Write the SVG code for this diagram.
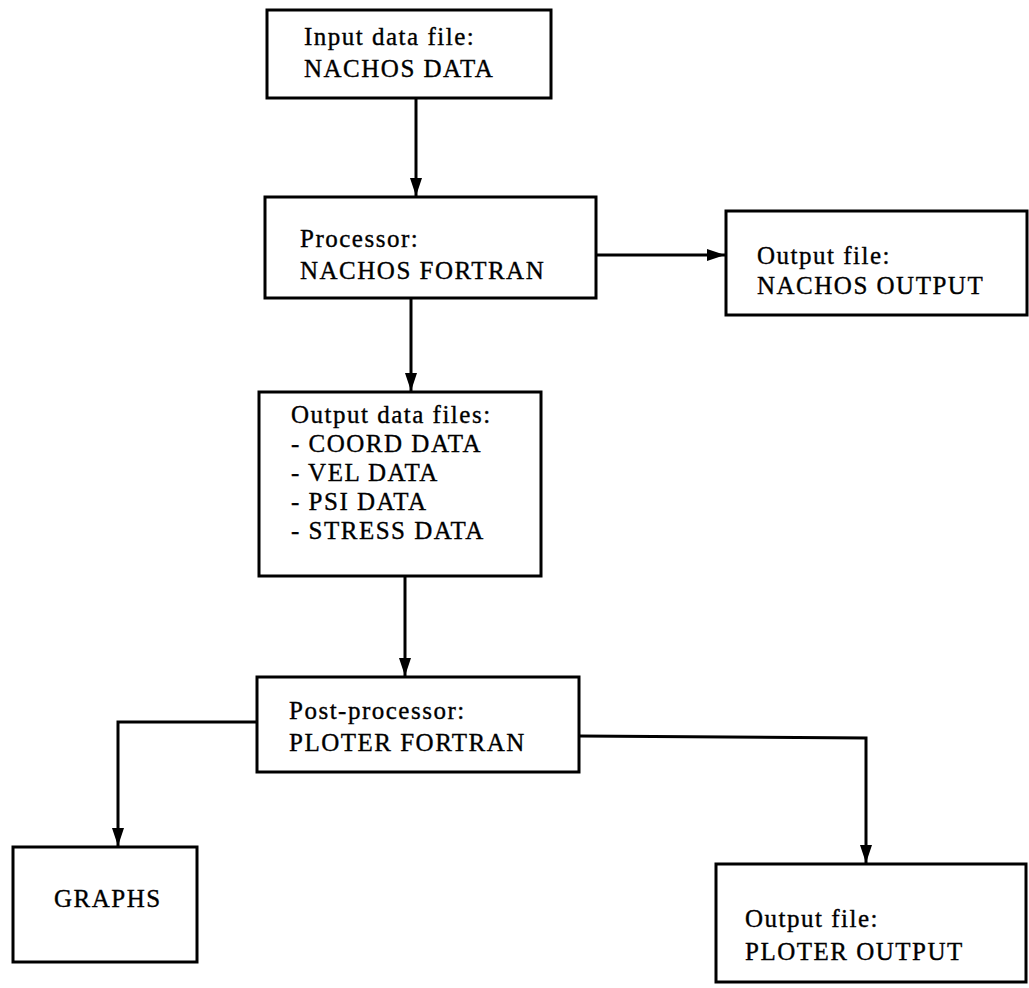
<svg xmlns="http://www.w3.org/2000/svg" width="1029" height="988" viewBox="0 0 1029 988">
<defs>
<style>
.box{fill:#fff;stroke:#000;stroke-width:3}
.t{font-family:"Liberation Serif","Times New Roman",serif;font-size:25px;fill:#000;stroke:#000;stroke-width:0.35;letter-spacing:1.5px}
.c{fill:none;stroke:#000;stroke-width:3}
</style>
<marker id="ah" markerUnits="userSpaceOnUse" markerWidth="20" markerHeight="14" refX="18" refY="7" orient="auto">
<path d="M0,1 L18,7 L0,13 Z" fill="#000"/>
</marker>
</defs>
<rect width="1029" height="988" fill="#fff"/>
<g id="connectors">
<path class="c" d="M416,98 V196" marker-end="url(#ah)"/>
<path class="c" d="M596,255 H725" marker-end="url(#ah)"/>
<path class="c" d="M411,298 V391" marker-end="url(#ah)"/>
<path class="c" d="M405,576 V676" marker-end="url(#ah)"/>
<path class="c" d="M257,722 H118 V846" marker-end="url(#ah)"/>
<path class="c" d="M579,736 L866,738 V863" marker-end="url(#ah)"/>
</g>
<g id="input">
<rect class="box" x="267" y="10" width="284" height="88"/>
<text class="t" x="304" y="45">Input data file:</text>
<text class="t" x="304" y="77">NACHOS DATA</text>
</g>
<g id="processor">
<rect class="box" x="265" y="197" width="331" height="101"/>
<text class="t" x="300" y="247">Processor:</text>
<text class="t" x="300" y="279">NACHOS FORTRAN</text>
</g>
<g id="nachos-output">
<rect class="box" x="726" y="211" width="301" height="104"/>
<text class="t" x="757" y="264">Output file:</text>
<text class="t" x="757" y="294">NACHOS OUTPUT</text>
</g>
<g id="output-data">
<rect class="box" x="259" y="392" width="282" height="184"/>
<text class="t" x="291" y="423">Output data files:</text>
<text class="t" x="291" y="452">- COORD DATA</text>
<text class="t" x="291" y="481">- VEL DATA</text>
<text class="t" x="291" y="510">- PSI DATA</text>
<text class="t" x="291" y="539">- STRESS DATA</text>
</g>
<g id="post-processor">
<rect class="box" x="257" y="677" width="322" height="95"/>
<text class="t" x="289" y="719">Post-processor:</text>
<text class="t" x="289" y="751">PLOTER FORTRAN</text>
</g>
<g id="graphs">
<rect class="box" x="13" y="847" width="184" height="115"/>
<text class="t" x="54" y="907">GRAPHS</text>
</g>
<g id="ploter-output">
<rect class="box" x="716" y="864" width="310" height="118"/>
<text class="t" x="745" y="927">Output file:</text>
<text class="t" x="745" y="960">PLOTER OUTPUT</text>
</g>
</svg>
